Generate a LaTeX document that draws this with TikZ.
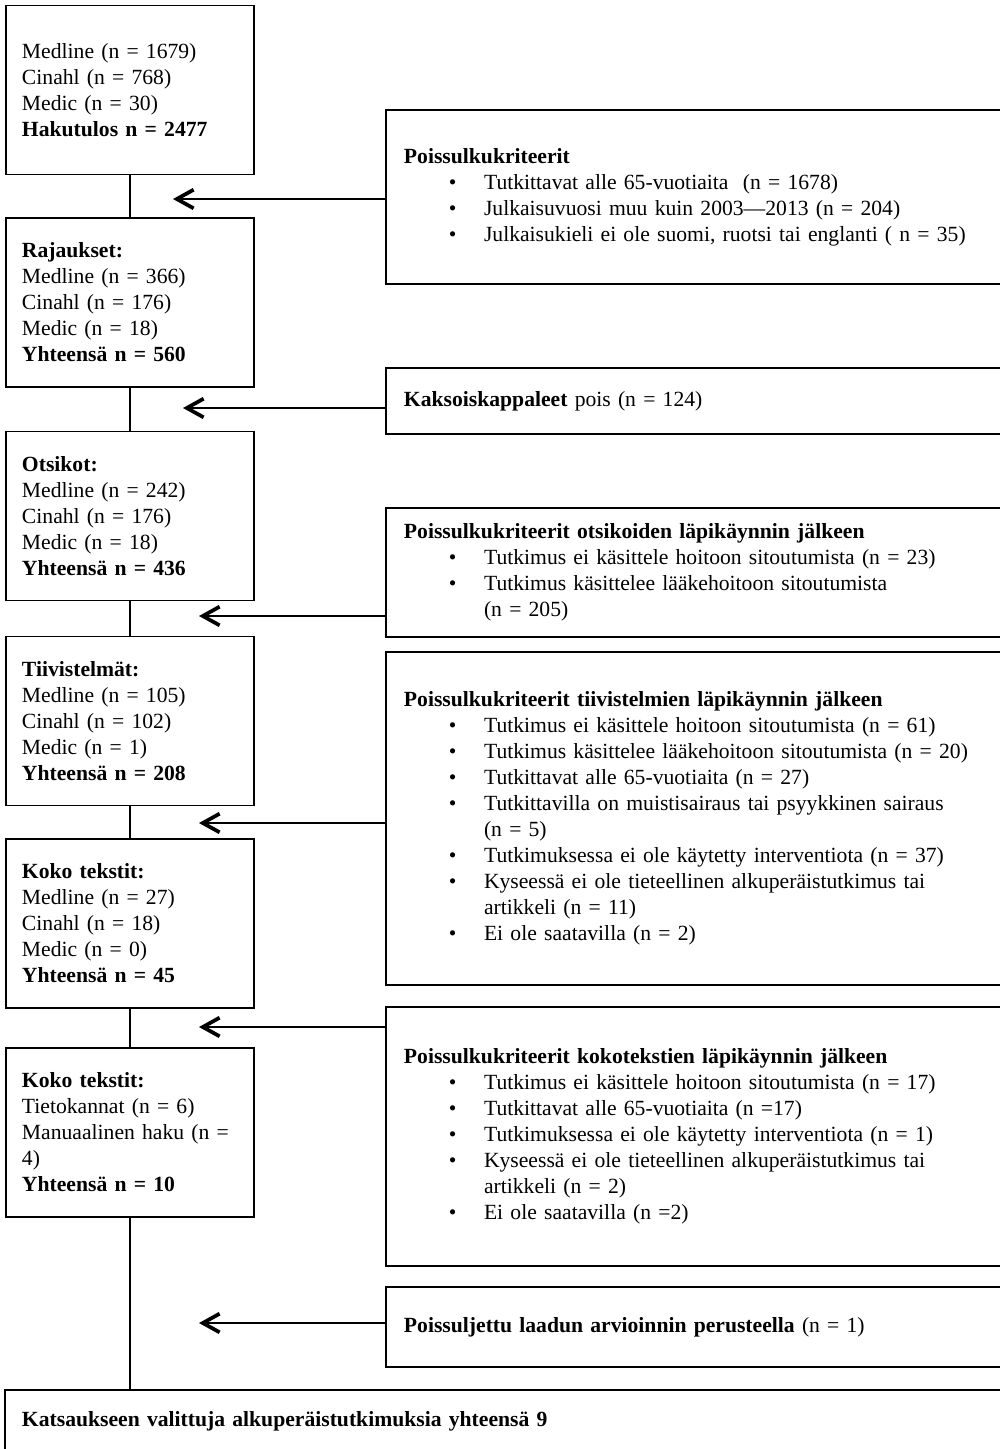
\documentclass[tikz,border=0pt]{standalone}
\usepackage{fontspec}
\setmainfont{Liberation Serif}
\usepackage{tikz}
\usetikzlibrary{arrows.meta}

\newcommand{\kohta}[1]{\hspace*{24.1pt}\makebox[18.8pt][l]{•}#1}
\newcommand{\jatko}[1]{\hspace*{42.9pt}#1}

\begin{document}
\begin{tikzpicture}[x=0.536pt, y=-0.536pt,
        font=\fontsize{11.6pt}{13.94pt}\selectfont,
        vasen/.style={draw, line width=0.75pt, align=left, text width=115.8pt, inner xsep=8.6pt, minimum height=90.6pt},
        oikea/.style={draw, line width=0.75pt, align=left, text width=325.9pt, inner xsep=9.6pt},
        yhdys/.style={line width=0.75pt},
        nuoli/.style={line width=0.75pt, -{Straight Barb[length=9pt,width=10pt,line width=2pt]}}]
        \useasboundingbox (0,0) rectangle (1000,1449);
        \clip (0,0) rectangle (1000,1449);
        \node[vasen] (haku) at (130,90) {Medline (n = 1679)\\Cinahl (n = 768)\\Medic (n = 30)\\\textbf{Hakutulos n = 2477}};
        \node[vasen] (rajaus) at (130,302.5) {\textbf{Rajaukset:}\\Medline (n = 366)\\Cinahl (n = 176)\\Medic (n = 18)\\\textbf{Yhteensä n = 560}};
        \node[vasen] (otsikot) at (130,516) {\textbf{Otsikot:}\\Medline (n = 242)\\Cinahl (n = 176)\\Medic (n = 18)\\\textbf{Yhteensä n = 436}};
        \node[vasen] (tiiv) at (130,721) {\textbf{Tiivistelmät:}\\Medline (n = 105)\\Cinahl (n = 102)\\Medic (n = 1)\\\textbf{Yhteensä n = 208}};
        \node[vasen] (koko) at (130,923.5) {\textbf{Koko tekstit:}\\Medline (n = 27)\\Cinahl (n = 18)\\Medic (n = 0)\\\textbf{Yhteensä n = 45}};
        \node[vasen] (koko2) at (130,1132.5) {\textbf{Koko tekstit:}\\Tietokannat (n = 6)\\Manuaalinen haku (n =\\4)\\\textbf{Yhteensä n = 10}};
        \node[draw, line width=0.75pt, align=left, text width=531.2pt, inner xsep=9.1pt, minimum height=33.2pt] (valitut) at (517.5,1421) {\textbf{Katsaukseen valittuja alkuperäistutkimuksia yhteensä 9}};
        \node[oikea, minimum height=93.3pt] (pois1) at (708,197) {\textbf{Poissulkukriteerit}\\\kohta{Tutkittavat alle 65-vuotiaita~ (n = 1678)}\\\kohta{Julkaisuvuosi muu kuin 2003—2013 (n = 204)}\\\kohta{Julkaisukieli ei ole suomi, ruotsi tai englanti ( n = 35)}};
        \node[oikea, minimum height=35.4pt] (kaksois) at (708,401) {\textbf{Kaksoiskappaleet} pois (n = 124)};
        \node[oikea, minimum height=69.1pt] (pois2) at (708,572.5) {\textbf{Poissulkukriteerit otsikoiden läpikäynnin jälkeen}\\\kohta{Tutkimus ei käsittele hoitoon sitoutumista (n = 23)}\\\kohta{Tutkimus käsittelee lääkehoitoon sitoutumista}\\\jatko{(n = 205)}};
        \node[oikea, minimum height=178.5pt] (pois3) at (708,818.5) {\textbf{Poissulkukriteerit tiivistelmien läpikäynnin jälkeen}\\\kohta{Tutkimus ei käsittele hoitoon sitoutumista (n = 61)}\\\kohta{Tutkimus käsittelee lääkehoitoon sitoutumista (n = 20)}\\\kohta{Tutkittavat alle 65-vuotiaita (n = 27)}\\\kohta{Tutkittavilla on muistisairaus tai psyykkinen sairaus}\\\jatko{(n = 5)}\\\kohta{Tutkimuksessa ei ole käytetty interventiota (n = 37)}\\\kohta{Kyseessä ei ole tieteellinen alkuperäistutkimus tai}\\\jatko{artikkeli (n = 11)}\\\kohta{Ei ole saatavilla (n = 2)}};
        \node[oikea, minimum height=138.8pt] (pois4) at (708,1136.5) {\textbf{Poissulkukriteerit kokotekstien läpikäynnin jälkeen}\\\kohta{Tutkimus ei käsittele hoitoon sitoutumista (n = 17)}\\\kohta{Tutkittavat alle 65-vuotiaita (n =17)}\\\kohta{Tutkimuksessa ei ole käytetty interventiota (n = 1)}\\\kohta{Kyseessä ei ole tieteellinen alkuperäistutkimus tai}\\\jatko{artikkeli (n = 2)}\\\kohta{Ei ole saatavilla (n =2)}};
        \node[oikea, minimum height=42.9pt] (laatu) at (708,1327) {\textbf{Poissuljettu laadun arvioinnin perusteella} (n = 1)};
        \coordinate (k1) at (173,199);
        \coordinate (k2) at (183,408);
        \coordinate (k3) at (199,616);
        \coordinate (k4) at (199,823);
        \coordinate (k5) at (199,1027);
        \coordinate (k6) at (199,1323);
        \draw [yhdys] (haku) -- (rajaus);
        \draw [yhdys] (rajaus) -- (otsikot);
        \draw [yhdys] (otsikot) -- (tiiv);
        \draw [yhdys] (tiiv) -- (koko);
        \draw [yhdys] (koko) -- (koko2);
        \draw [yhdys] (koko2.south) -- (koko2.south |- valitut.north);
        \draw [nuoli] (pois1.west |- k1) -- (k1);
        \draw [nuoli] (kaksois.west |- k2) -- (k2);
        \draw [nuoli] (pois2.west |- k3) -- (k3);
        \draw [nuoli] (pois3.west |- k4) -- (k4);
        \draw [nuoli] (pois4.west |- k5) -- (k5);
        \draw [nuoli] (laatu.west |- k6) -- (k6);
    \end{tikzpicture}
\end{document}
